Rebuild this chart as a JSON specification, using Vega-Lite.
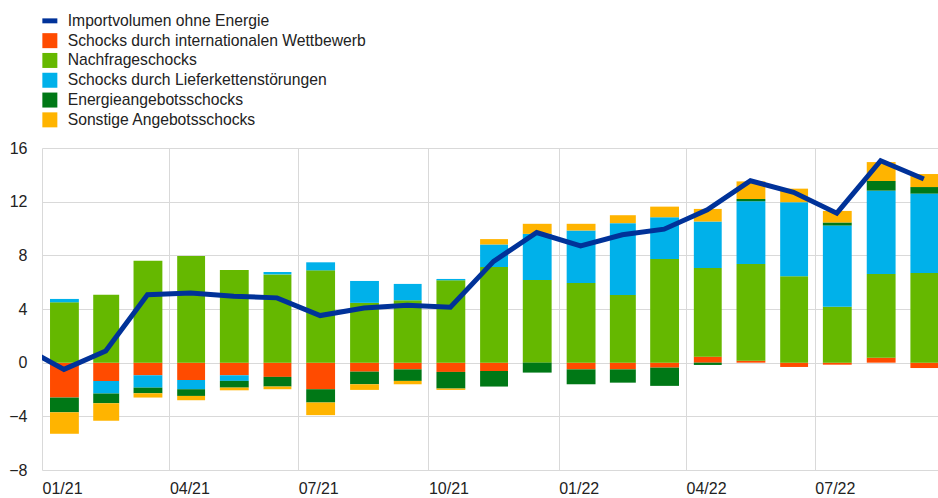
{
  "$schema": "https://vega.github.io/schema/vega-lite/v6.json",
  "width": 896,
  "height": 322,
  "autosize": {"type": "none"},
  "padding": {"left": 42, "top": 148, "right": 0, "bottom": 28},
  "background": "white",
  "config": {
    "view": {"stroke": null},
    "font": "Liberation Sans",
    "legend": {
      "orient": "none",
      "legendX": 0,
      "legendY": -135,
      "title": null,
      "direction": "vertical",
      "symbolType": "square",
      "symbolSize": 225,
      "symbolStrokeWidth": 0,
      "labelFontSize": 15.7,
      "labelFont": "Liberation Sans",
      "labelColor": "#222222",
      "labelOffset": 10,
      "labelLimit": 500,
      "rowPadding": 2.8,
      "padding": 0
    }
  },
  "datasets": {
    "order": [
      {"series": "Schocks durch internationalen Wettbewerb", "k": 1},
      {"series": "Nachfrageschocks", "k": 2},
      {"series": "Schocks durch Lieferkettenstörungen", "k": 3},
      {"series": "Energieangebotsschocks", "k": 4},
      {"series": "Sonstige Angebotsschocks", "k": 5}
    ]
  },
  "data": {
    "values": [
      {"month": "2020-12-15", "Importvolumen ohne Energie": 1.3},
      {"month": "2021-01-15", "Importvolumen ohne Energie": -0.5, "Schocks durch internationalen Wettbewerb": -2.6, "Nachfrageschocks": 4.5, "Schocks durch Lieferkettenstörungen": 0.25, "Energieangebotsschocks": -1.1, "Sonstige Angebotsschocks": -1.6},
      {"month": "2021-02-15", "Importvolumen ohne Energie": 0.87, "Schocks durch internationalen Wettbewerb": -1.36, "Nachfrageschocks": 5.07, "Schocks durch Lieferkettenstörungen": -0.94, "Energieangebotsschocks": -0.72, "Sonstige Angebotsschocks": -1.31},
      {"month": "2021-03-15", "Importvolumen ohne Energie": 5.07, "Schocks durch internationalen Wettbewerb": -0.94, "Nachfrageschocks": 7.6, "Schocks durch Lieferkettenstörungen": -0.92, "Energieangebotsschocks": -0.42, "Sonstige Angebotsschocks": -0.32},
      {"month": "2021-04-15", "Importvolumen ohne Energie": 5.2, "Schocks durch internationalen Wettbewerb": -1.29, "Nachfrageschocks": 7.95, "Schocks durch Lieferkettenstörungen": -0.69, "Energieangebotsschocks": -0.5, "Sonstige Angebotsschocks": -0.32},
      {"month": "2021-05-15", "Importvolumen ohne Energie": 4.95, "Schocks durch internationalen Wettbewerb": -0.94, "Nachfrageschocks": 6.9, "Schocks durch Lieferkettenstörungen": -0.42, "Energieangebotsschocks": -0.5, "Sonstige Angebotsschocks": -0.2},
      {"month": "2021-06-15", "Importvolumen ohne Energie": 4.83, "Schocks durch internationalen Wettbewerb": -1.06, "Nachfrageschocks": 6.58, "Schocks durch Lieferkettenstörungen": 0.18, "Energieangebotsschocks": -0.72, "Sonstige Angebotsschocks": -0.2},
      {"month": "2021-07-15", "Importvolumen ohne Energie": 3.51, "Schocks durch internationalen Wettbewerb": -1.98, "Nachfrageschocks": 6.88, "Schocks durch Lieferkettenstörungen": 0.6, "Energieangebotsschocks": -0.99, "Sonstige Angebotsschocks": -0.94},
      {"month": "2021-08-15", "Importvolumen ohne Energie": 4.08, "Schocks durch internationalen Wettbewerb": -0.67, "Nachfrageschocks": 4.46, "Schocks durch Lieferkettenstörungen": 1.63, "Energieangebotsschocks": -0.94, "Sonstige Angebotsschocks": -0.42},
      {"month": "2021-09-15", "Importvolumen ohne Energie": 4.28, "Schocks durch internationalen Wettbewerb": -0.5, "Nachfrageschocks": 4.65, "Schocks durch Lieferkettenstörungen": 1.22, "Energieangebotsschocks": -0.86, "Sonstige Angebotsschocks": -0.25},
      {"month": "2021-10-15", "Importvolumen ohne Energie": 4.13, "Schocks durch internationalen Wettbewerb": -0.69, "Nachfrageschocks": 6.14, "Schocks durch Lieferkettenstörungen": 0.1, "Energieangebotsschocks": -1.24, "Sonstige Angebotsschocks": -0.1},
      {"month": "2021-11-15", "Importvolumen ohne Energie": 7.55, "Schocks durch internationalen Wettbewerb": -0.62, "Nachfrageschocks": 7.13, "Schocks durch Lieferkettenstörungen": 1.68, "Energieangebotsschocks": -1.16, "Sonstige Angebotsschocks": 0.4},
      {"month": "2021-12-15", "Importvolumen ohne Energie": 9.7, "Schocks durch internationalen Wettbewerb": 0, "Nachfrageschocks": 6.16, "Schocks durch Lieferkettenstörungen": 3.44, "Energieangebotsschocks": -0.74, "Sonstige Angebotsschocks": 0.75},
      {"month": "2022-01-15", "Importvolumen ohne Energie": 8.71, "Schocks durch internationalen Wettbewerb": -0.5, "Nachfrageschocks": 5.94, "Schocks durch Lieferkettenstörungen": 3.91, "Energieangebotsschocks": -1.11, "Sonstige Angebotsschocks": 0.5},
      {"month": "2022-02-15", "Importvolumen ohne Energie": 9.53, "Schocks durch internationalen Wettbewerb": -0.5, "Nachfrageschocks": 5.05, "Schocks durch Lieferkettenstörungen": 5.35, "Energieangebotsschocks": -0.99, "Sonstige Angebotsschocks": 0.59},
      {"month": "2022-03-15", "Importvolumen ohne Energie": 9.95, "Schocks durch internationalen Wettbewerb": -0.37, "Nachfrageschocks": 7.72, "Schocks durch Lieferkettenstörungen": 3.12, "Energieangebotsschocks": -1.36, "Sonstige Angebotsschocks": 0.79},
      {"month": "2022-04-15", "Importvolumen ohne Energie": 11.39, "Schocks durch internationalen Wettbewerb": 0.45, "Nachfrageschocks": 6.6, "Schocks durch Lieferkettenstörungen": 3.47, "Energieangebotsschocks": -0.17, "Sonstige Angebotsschocks": 0.94},
      {"month": "2022-05-15", "Importvolumen ohne Energie": 13.56, "Schocks durch internationalen Wettbewerb": 0.15, "Nachfrageschocks": 7.2, "Schocks durch Lieferkettenstörungen": 4.68, "Energieangebotsschocks": 0.17, "Sonstige Angebotsschocks": 1.31},
      {"month": "2022-06-15", "Importvolumen ohne Energie": 12.7, "Schocks durch internationalen Wettbewerb": -0.32, "Nachfrageschocks": 6.44, "Schocks durch Lieferkettenstörungen": 5.52, "Energieangebotsschocks": 0, "Sonstige Angebotsschocks": 1.01},
      {"month": "2022-07-15", "Importvolumen ohne Energie": 11.14, "Schocks durch internationalen Wettbewerb": -0.15, "Nachfrageschocks": 4.16, "Schocks durch Lieferkettenstörungen": 6.06, "Energieangebotsschocks": 0.23, "Sonstige Angebotsschocks": 0.86},
      {"month": "2022-08-15", "Importvolumen ohne Energie": 15.05, "Schocks durch internationalen Wettbewerb": 0.37, "Nachfrageschocks": 6.24, "Schocks durch Lieferkettenstörungen": 6.21, "Energieangebotsschocks": 0.72, "Sonstige Angebotsschocks": 1.41},
      {"month": "2022-09-15", "Importvolumen ohne Energie": 13.69, "Schocks durch internationalen Wettbewerb": -0.4, "Nachfrageschocks": 6.68, "Schocks durch Lieferkettenstörungen": 5.92, "Energieangebotsschocks": 0.49, "Sonstige Angebotsschocks": 0.97}
    ]
  },
  "transform": [
    {"fold": ["Importvolumen ohne Energie", "Schocks durch internationalen Wettbewerb", "Nachfrageschocks", "Schocks durch Lieferkettenstörungen", "Energieangebotsschocks", "Sonstige Angebotsschocks"], "as": ["series", "value"]},
    {"filter": "isValid(datum.value)"}
  ],
  "encoding": {
    "color": {
      "field": "series",
      "type": "nominal",
      "scale": {
        "domain": ["Importvolumen ohne Energie", "Schocks durch internationalen Wettbewerb", "Nachfrageschocks", "Schocks durch Lieferkettenstörungen", "Energieangebotsschocks", "Sonstige Angebotsschocks"],
        "range": ["#003299", "#FF4B00", "#65B800", "#00B1EA", "#007816", "#FFB400"]
      },
      "legend": {
        "encode": {
          "symbols": {
            "update": {
              "shape": {"signal": "datum.value === 'Importvolumen ohne Energie' ? 'M-1,-0.33H1V0.33H-1Z' : 'square'"},
              "fill": {"scale": "color", "field": "value"},
              "fillOpacity": {"value": 1},
              "strokeWidth": {"value": 0}
            }
          }
        }
      }
    }
  },
  "layer": [
    {
      "transform": [
        {"filter": "datum.series !== 'Importvolumen ohne Energie'"},
        {"lookup": "series", "from": {"data": {"name": "order"}, "key": "series", "fields": ["k"]}}
      ],
      "mark": {"type": "bar", "width": {"band": 0.68}, "clip": true},
      "encoding": {
        "x": {
          "field": "month", "timeUnit": "yearmonth", "type": "temporal",
          "scale": {"domain": [{"year": 2021, "month": 1, "date": 1}, {"year": 2022, "month": 9, "date": 26}]},
          "axis": {
            "title": null,
            "values": [{"year": 2021, "month": 1, "date": 1}, {"year": 2021, "month": 4, "date": 1}, {"year": 2021, "month": 7, "date": 1}, {"year": 2021, "month": 10, "date": 1}, {"year": 2022, "month": 1, "date": 1}, {"year": 2022, "month": 4, "date": 1}, {"year": 2022, "month": 7, "date": 1}],
            "format": "%m/%y",
            "labelOffset": 20,
            "labelFlush": false,
            "labelOverlap": false,
            "domain": false,
            "ticks": false,
            "tickSize": 0,
            "labelPadding": 10,
            "labelFontSize": 16,
            "labelColor": "#222222",
            "grid": true,
            "gridColor": "#d9d9d9"
          }
        },
        "y": {
          "field": "value", "type": "quantitative", "stack": "zero",
          "scale": {"domain": [-8, 16], "nice": false},
          "axis": {
            "title": null,
            "values": [-8, -4, 0, 4, 8, 12, 16],
            "domain": false,
            "ticks": false,
            "tickSize": 0,
            "labelPadding": 15,
            "labelFontSize": 16,
            "labelColor": "#222222",
            "grid": true,
            "gridColor": "#d9d9d9"
          }
        },
        "order": {"field": "k", "type": "quantitative"}
      }
    },
    {
      "transform": [
        {"filter": "datum.series === 'Importvolumen ohne Energie'"}
      ],
      "mark": {"type": "line", "strokeWidth": 5, "clip": true},
      "encoding": {
        "x": {
          "field": "month", "timeUnit": "yearmonth", "type": "temporal", "bandPosition": 0.5
        },
        "y": {"field": "value", "type": "quantitative"}
      }
    }
  ]
}
